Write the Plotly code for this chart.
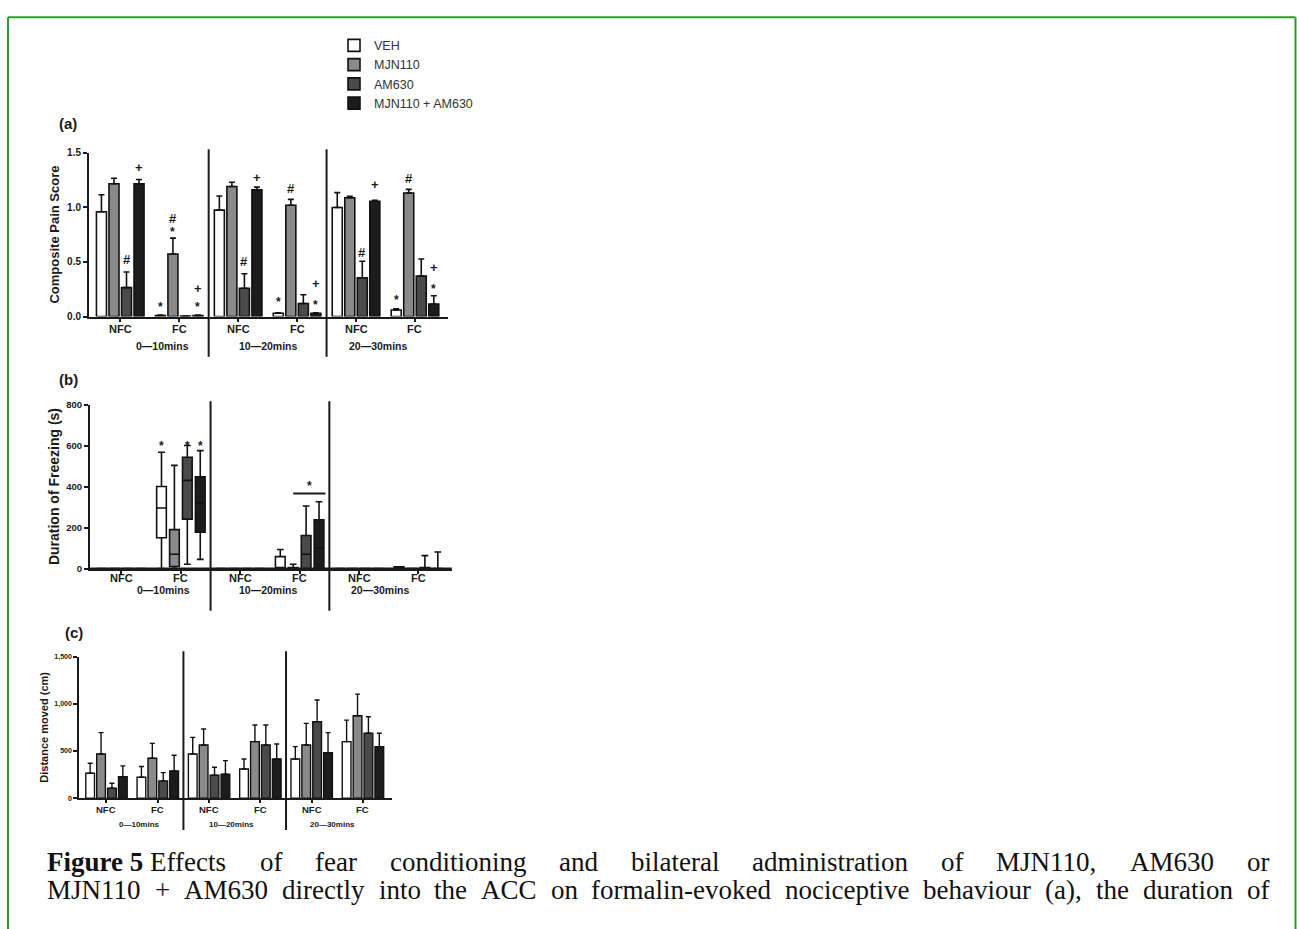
import plotly.graph_objects as go

W, H = 1297, 929

# ---------------- data ----------------
series = ["VEH", "MJN110", "AM630", "MJN110 + AM630"]
fills = ["#ffffff", "#8a8a8a", "#4a4a4a", "#1c1c1c"]
conditions = ["NFC", "FC", "NFC", "FC", "NFC", "FC"]
time_windows = ["0\u201410mins", "10\u201420mins", "20\u201430mins"]
group_idx = [0, 1, 2, 3, 4, 5]

# (a) Composite pain score: mean and upper SEM
pain_veh = [0.958, 0.010, 0.973, 0.030, 0.997, 0.060]
pain_mjn = [1.214, 0.572, 1.190, 1.018, 1.087, 1.130]
pain_am = [0.265, 0.005, 0.259, 0.120, 0.355, 0.370]
pain_combo = [1.214, 0.010, 1.160, 0.030, 1.054, 0.114]
pain_veh_sem = [0.156, 0.005, 0.129, 0.005, 0.136, 0.010]
pain_mjn_sem = [0.051, 0.145, 0.039, 0.054, 0.013, 0.033]
pain_am_sem = [0.142, 0.000, 0.133, 0.079, 0.151, 0.157]
pain_combo_sem = [0.039, 0.005, 0.024, 0.005, 0.009, 0.076]

# (b) Duration of freezing: box statistics (min, q1, median, q3, max)
frz_veh_min = [0, 0, 0, 0, 0, 0]
frz_veh_q1 = [0, 150, 0, 0, 0, 0]
frz_veh_med = [0, 295, 0, 0, 0, 0]
frz_veh_q3 = [0, 400, 0, 58, 0, 8]
frz_veh_max = [0, 567, 0, 93, 0, 8]
frz_mjn_min = [0, 0, 0, 0, 0, 0]
frz_mjn_q1 = [0, 10, 0, 0, 0, 0]
frz_mjn_med = [0, 70, 0, 0, 0, 0]
frz_mjn_q3 = [0, 190, 0, 5, 0, 0]
frz_mjn_max = [0, 503, 0, 21, 0, 0]
frz_am_min = [0, 21, 0, 0, 0, 0]
frz_am_q1 = [0, 241, 0, 0, 0, 0]
frz_am_med = [0, 430, 0, 70, 0, 0]
frz_am_q3 = [0, 543, 0, 161, 0, 5]
frz_am_max = [0, 600, 0, 305, 0, 63]
frz_combo_min = [0, 45, 0, 0, 0, 0]
frz_combo_q1 = [0, 177, 0, 0, 0, 0]
frz_combo_med = [0, 320, 0, 100, 0, 0]
frz_combo_q3 = [0, 447, 0, 238, 0, 0]
frz_combo_max = [0, 575, 0, 326, 0, 81]

# (c) Distance moved: mean and upper SEM
dist_veh = [264, 222, 468, 310, 415, 599]
dist_mjn = [468, 423, 563, 599, 563, 873]
dist_am = [106, 183, 243, 563, 810, 687]
dist_combo = [229, 289, 254, 415, 482, 546]
dist_veh_sem = [106, 113, 176, 105, 131, 228]
dist_mjn_sem = [226, 158, 169, 176, 229, 229]
dist_am_sem = [52, 88, 84, 212, 229, 176]
dist_combo_sem = [113, 165, 144, 159, 212, 141]

# significance symbols for (a): (group index, series index, symbol, y)
pain_marks = [
    (0, 3, "+", 1.36), (0, 2, "#", 0.52),
    (1, 0, "*", 0.09), (1, 1, "*", 0.77), (1, 1, "#", 0.90), (1, 3, "*", 0.085), (1, 3, "+", 0.256),
    (2, 2, "#", 0.50), (2, 3, "+", 1.27),
    (3, 0, "*", 0.13), (3, 1, "#", 1.17), (3, 3, "*", 0.105), (3, 3, "+", 0.304),
    (4, 2, "#", 0.59), (4, 3, "+", 1.21),
    (5, 0, "*", 0.15), (5, 1, "#", 1.26), (5, 3, "*", 0.25), (5, 3, "+", 0.452),
]
# significance symbols for (b)
freeze_marks = [(1, 0, "*", 600), (1, 2, "*", 600), (1, 3, "*", 600)]
freeze_bracket = (3, 1, 3, 366)  # group, from series, to series, y

caption_line1 = ["<b>Figure 5</b> Effects", "of", "fear", "conditioning", "and", "bilateral",
                 "administration", "of", "MJN110,", "AM630", "or"]
caption_line2 = ["MJN110", "+", "AM630", "directly", "into", "the", "ACC", "on", "formalin-evoked",
                 "nociceptive", "behaviour", "(a),", "the", "duration", "of"]

# ---------------- helpers ----------------
def px(x):
    return x / W


def py(y):
    return 1 - y / H


BARGAP, BARGROUPGAP = 0.15, 0.2
BOXGAP, BOXGROUPGAP = 0.13, 0.25


def offset(i, gap, n=4):
    slot = (1 - gap) / n
    return -(1 - gap) / 2 + (i + 0.5) * slot


SANS = "Liberation Sans"
INK = "#1a1a1a"

fig = go.Figure()

pain_means = [pain_veh, pain_mjn, pain_am, pain_combo]
pain_sems = [pain_veh_sem, pain_mjn_sem, pain_am_sem, pain_combo_sem]
for i, name in enumerate(series):
    fig.add_trace(go.Bar(
        x=group_idx, y=pain_means[i], name=name, legendgroup=name,
        marker=dict(color=fills[i], line=dict(color="#111", width=1.6)),
        error_y=dict(type="data", symmetric=False, array=pain_sems[i], arrayminus=[0] * 6,
                     color="#111", thickness=1.6, width=3),
        xaxis="x", yaxis="y", showlegend=True,
    ))

frz = [
    (frz_veh_min, frz_veh_q1, frz_veh_med, frz_veh_q3, frz_veh_max),
    (frz_mjn_min, frz_mjn_q1, frz_mjn_med, frz_mjn_q3, frz_mjn_max),
    (frz_am_min, frz_am_q1, frz_am_med, frz_am_q3, frz_am_max),
    (frz_combo_min, frz_combo_q1, frz_combo_med, frz_combo_q3, frz_combo_max),
]
for i, name in enumerate(series):
    mn, q1, md, q3, mx = frz[i]
    fig.add_trace(go.Box(
        x=group_idx, lowerfence=mn, q1=q1, median=md, q3=q3, upperfence=mx,
        name=name, legendgroup=name, showlegend=False,
        fillcolor=fills[i], line=dict(color="#111", width=1.6), whiskerwidth=0.7,
        xaxis="x2", yaxis="y2", hoverinfo="skip",
    ))

dist_means = [dist_veh, dist_mjn, dist_am, dist_combo]
dist_sems = [dist_veh_sem, dist_mjn_sem, dist_am_sem, dist_combo_sem]
for i, name in enumerate(series):
    fig.add_trace(go.Bar(
        x=group_idx, y=dist_means[i], name=name, legendgroup=name, showlegend=False,
        marker=dict(color=fills[i], line=dict(color="#111", width=1.4)),
        error_y=dict(type="data", symmetric=False, array=dist_sems[i], arrayminus=[0] * 6,
                     color="#111", thickness=1.4, width=2.5),
        xaxis="x3", yaxis="y3",
    ))

XR = [-0.53, 5.56]


def xax(domain, anchor, showline=True):
    return dict(domain=domain, range=XR, anchor=anchor, tickmode="array", tickvals=group_idx,
                showticklabels=False, showline=showline, linecolor=INK, linewidth=2,
                ticks="outside", ticklen=3, tickwidth=1.5, tickcolor=INK, showgrid=False,
                zeroline=False)


def yax(domain, rng, tv, tt, fsize, title, tsize, standoff, anchor):
    return dict(domain=domain, range=rng, anchor=anchor, tickmode="array", tickvals=tv,
                ticktext=tt, showline=True, linecolor=INK, linewidth=2, ticks="outside",
                ticklen=4, tickwidth=1.5, tickcolor=INK, showgrid=False, zeroline=False,
                tickfont=dict(family=SANS, size=fsize, color=INK, weight="bold"),
                title=dict(text=title, standoff=standoff,
                           font=dict(family=SANS, size=tsize, color=INK, weight="bold")))


B_LEFT, B_RIGHT, B_BOTTOM = 90, 451.7, 569.3

layout = dict(
    width=W, height=H, margin=dict(l=0, r=0, t=0, b=0),
    paper_bgcolor="white", plot_bgcolor="white",
    barmode="group", bargap=BARGAP, bargroupgap=BARGROUPGAP,
    boxmode="group", boxgap=BOXGAP, boxgroupgap=BOXGROUPGAP,
    xaxis=xax([px(89), px(448)], "y"),
    yaxis=yax([py(314.3), py(148.3)], [0, 1.5], [0, 0.5, 1.0, 1.5], ["0.0", "0.5", "1.0", "1.5"],
              10, "Composite Pain Score", 13, 5, "x"),
    xaxis2=xax([px(B_LEFT), px(B_RIGHT)], "y2"),
    yaxis2=yax([py(B_BOTTOM), py(403.3)], [0, 800], [0, 200, 400, 600, 800],
               ["0", "200", "400", "600", "800"], 9.5, "Duration of Freezing (s)", 14, 3, "x2"),
    xaxis3=xax([px(79.3), px(391.7)], "y3"),
    yaxis3=yax([py(801.7), py(658.3)], [0, 1500], [0, 500, 1000, 1500],
               ["0", "500", "1,000", "1,500"], 7, "Distance moved (cm)", 11, 4, "x3"),
    legend=dict(x=px(334), y=py(25), xanchor="left", yanchor="top", bgcolor="rgba(0,0,0,0)",
                font=dict(family=SANS, size=12.5, color="#333"), tracegroupgap=0),
    showlegend=True,
)
fig.update_layout(**layout)

shapes = []
annotations = []

# cover the zero-height boxes of groups without freezing so they merge with the axis
shapes.append(dict(type="line", xref="paper", yref="paper", x0=px(B_LEFT), x1=px(B_RIGHT),
                   y0=py(B_BOTTOM - 0.3), y1=py(B_BOTTOM - 0.3), layer="above",
                   line=dict(color=INK, width=1.4)))

# separators between time windows
for xref, ytop, ybot in (("x", 145, 355), ("x2", 400, 612), ("x3", 653, 834)):
    for xv in (1.5, 3.5):
        shapes.append(dict(type="line", xref=xref, yref="paper", x0=xv, x1=xv,
                           y0=py(ybot), y1=py(ytop), line=dict(color=INK, width=2)))

# condition labels (NFC / FC) under each axis
for xref, yv, fs in (("x", 326.7, 11), ("x2", 578.5, 11), ("x3", 813.3, 9.5)):
    for g in group_idx:
        annotations.append(dict(text=conditions[g], xref=xref, yref="paper", x=g, y=py(yv),
                                xanchor="center", yanchor="middle", showarrow=False,
                                font=dict(family=SANS, size=fs, color=INK, weight="bold")))

# time-window labels
for xref, yv, fs, xs in (("x", 344.3, 10.5, [0.71, 2.51, 4.38]),
                         ("x2", 590.5, 10.5, [0.70, 2.48, 4.36]),
                         ("x3", 828.5, 8, [0.64, 2.43, 4.40])):
    for k, t in enumerate(time_windows):
        annotations.append(dict(text=t, xref=xref, yref="paper", x=xs[k], y=py(yv),
                                xanchor="center", yanchor="middle", showarrow=False,
                                font=dict(family=SANS, size=fs, color=INK, weight="bold")))

# panel letters
for t, xv, yv in (("(a)", 57, 119), ("(b)", 57, 378), ("(c)", 63, 634)):
    annotations.append(dict(text=t, xref="paper", yref="paper", x=px(xv), y=py(yv), xanchor="left",
                            yanchor="middle", showarrow=False,
                            font=dict(family=SANS, size=15, color=INK, weight="bold")))

# significance marks
for g, s, sym, yv in pain_marks:
    annotations.append(dict(text=sym, xref="x", yref="y", x=g + offset(s, BARGAP), y=yv,
                            xanchor="center", yanchor="middle", showarrow=False,
                            font=dict(family=SANS, size=13 if sym != "*" else 12, color=INK,
                                      weight="bold")))
for g, s, sym, yv in freeze_marks:
    annotations.append(dict(text=sym, xref="x2", yref="y2", x=g + offset(s, BOXGAP), y=yv,
                            xanchor="center", yanchor="middle", showarrow=False,
                            font=dict(family=SANS, size=12, color=INK, weight="bold")))
g, s0, s1, yb = freeze_bracket
bx0 = g + offset(s0, BOXGAP)
bx1 = g + offset(s1, BOXGAP) + (1 - BOXGAP) / 8
shapes.append(dict(type="line", xref="x2", yref="y2", x0=bx0, x1=bx1, y0=yb, y1=yb,
                   line=dict(color=INK, width=2)))
annotations.append(dict(text="*", xref="x2", yref="y2", x=(bx0 + bx1) / 2, y=yb + 35,
                        xanchor="center", yanchor="middle", showarrow=False,
                        font=dict(family=SANS, size=12, color=INK, weight="bold")))

# green frame
GREEN = "#2f9a2f"
shapes += [
    dict(type="line", xref="paper", yref="paper", x0=px(8), x1=px(8), y0=py(11.5), y1=-0.05,
         line=dict(color=GREEN, width=2)),
    dict(type="line", xref="paper", yref="paper", x0=px(8), x1=px(1295.5), y0=py(11.5), y1=py(11.5),
         line=dict(color=GREEN, width=2)),
    dict(type="line", xref="paper", yref="paper", x0=px(1295.5), x1=px(1295.5), y0=py(11.5), y1=-0.05,
         line=dict(color=GREEN, width=2)),
]

# caption, justified word by word (Times metrics for Liberation Serif)
TW = {" ": 250, "(": 333, ")": 333, "+": 564, ",": 250, "-": 333, ".": 250,
      "A": 722, "C": 667, "E": 611, "F": 556, "J": 389, "M": 889, "N": 722,
      "a": 444, "b": 500, "c": 444, "d": 500, "e": 444, "f": 333, "g": 500, "h": 500,
      "i": 278, "k": 500, "l": 278, "m": 778, "n": 500, "o": 500, "p": 500, "r": 333,
      "s": 389, "t": 278, "u": 500, "v": 500, "y": 500, "w": 722}
TWB = {"F": 611, "i": 278, "g": 500, "u": 556, "r": 444, "e": 444, " ": 250}


def word_width(w, size):
    total = 0
    bold = False
    k = 0
    while k < len(w):
        if w.startswith("<b>", k):
            bold = True
            k += 3
            continue
        if w.startswith("</b>", k):
            bold = False
            k += 4
            continue
        ch = w[k]
        if ch.isdigit():
            total += 500
        elif bold:
            total += TWB.get(ch, 500)
        else:
            total += TW.get(ch, 500)
        k += 1
    return total * size / 1000


CAP_SIZE = 27
CAP_X0, CAP_X1 = 46, 1268
for words, yline in ((caption_line1, 866), (caption_line2, 895)):
    widths = [word_width(w, CAP_SIZE) for w in words]
    gap = (CAP_X1 - CAP_X0 - sum(widths)) / (len(words) - 1)
    xcur = CAP_X0
    for w, wd in zip(words, widths):
        annotations.append(dict(text=w, xref="paper", yref="paper", x=px(xcur), y=py(yline),
                                xanchor="left", yanchor="middle", showarrow=False, borderpad=0,
                                font=dict(family="Liberation Serif", size=CAP_SIZE, color="#111")))
        xcur += wd + gap

fig.update_layout(shapes=shapes, annotations=annotations)

fig.write_html("out.html", config={"displayModeBar": False},
               post_script="document.body.style.margin='0';document.body.style.overflow='hidden';")
